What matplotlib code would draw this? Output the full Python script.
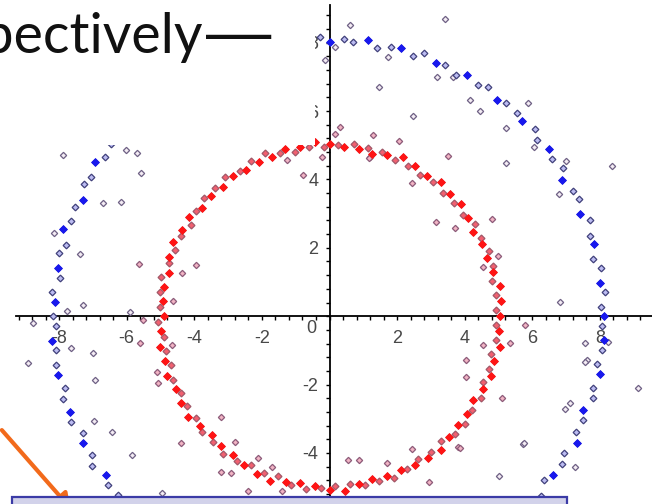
import numpy as np
import matplotlib
matplotlib.use("Agg")
import matplotlib.pyplot as plt
from matplotlib.patches import Rectangle, FancyArrowPatch
from matplotlib.ticker import FixedLocator, MultipleLocator

plt.rcParams['font.family'] = ['Liberation Sans', 'DejaVu Sans']
plt.rcParams['axes.unicode_minus'] = False

# points assigned to the inner cluster (radius ~5)
red_x = [5.03, 4.94, 5.06, 4.93, 5.04, 4.80, 4.84, 4.84, 4.65, 4.73, 4.51, 4.49, 4.24, 4.30, 4.10, 3.94, 3.90, 3.69,
         3.57, 3.36, 3.29, 3.07, 2.88, 2.69, 2.54, 2.33, 2.17, 1.94, 1.71, 1.56, 1.27, 1.13, 0.87, 0.71, 0.43, 0.26,
         0.00, -0.17, -0.44, -0.61, -0.88, -1.02, -1.31, -1.46, -1.69, -1.92, -2.10, -2.31, -2.47, -2.66, -2.86, -3.08,
         -3.16, -3.38, -3.51, -3.72, -3.78, -3.94, -4.15, -4.11, -4.36, -4.40, -4.62, -4.56, -4.76, -4.76, -4.74, -4.99,
         -4.89, -5.03, -4.92, -5.02,
         -4.90, -5.07, -4.98, -4.90, -5.01, -4.85, -4.88, -4.70, -4.80, -4.63, -4.55, -4.40, -4.40, -4.21, -4.20, -3.96,
         -3.83, -3.76, -3.48, -3.44, -3.20, -3.14, -2.85, -2.74, -2.52, -2.32, -2.15, -1.94, -1.75, -1.52, -1.30, -1.14,
         -0.86, -0.71, -0.43, -0.26,
         0.00, 0.17, 0.45, 0.60, 0.87, 1.05, 1.27, 1.47, 1.70, 1.91, 2.10, 2.28, 2.52, 2.62, 2.92, 2.99, 3.29, 3.29,
         3.54, 3.70, 3.79, 4.02, 4.08, 4.23, 4.24, 4.48, 4.53, 4.54, 4.78, 4.72, 4.88, 4.79, 5.03, 4.94, 5.00, 4.93]
red_y = [0.00, 0.17, 0.44, 0.61, 0.89, 1.02, 1.30, 1.48, 1.69, 1.91, 2.11, 2.29, 2.45, 2.69, 2.87, 2.97, 3.27, 3.32,
         3.57, 3.60, 3.91, 3.93, 4.11, 4.14, 4.40, 4.39, 4.65, 4.56, 4.70, 4.81, 4.75, 4.91, 4.90, 5.05, 4.94, 5.02,
         5.03, 4.96, 5.08, 4.95, 4.96, 4.81, 4.89, 4.78, 4.65, 4.76, 4.50, 4.53, 4.28, 4.26, 4.09, 4.08, 3.77, 3.75,
         3.51, 3.47, 3.17, 3.08, 2.91, 2.67, 2.52, 2.34, 2.16, 1.94, 1.73, 1.55, 1.27, 1.15, 0.86, 0.71, 0.43, 0.26,
         0.00, -0.18, -0.44, -0.60, -0.89, -1.03, -1.31, -1.44, -1.75, -1.87, -2.12, -2.24, -2.54, -2.63, -2.94, -2.98,
         -3.22, -3.39, -3.48, -3.68, -3.81, -4.02, -4.06, -4.22, -4.36, -4.36, -4.60, -4.58, -4.81, -4.67, -4.84, -4.93,
         -4.88, -5.05, -4.96, -5.03,
         -5.08, -4.97, -5.11, -4.91, -4.92, -4.95, -4.75, -4.82, -4.68, -4.73, -4.50, -4.48, -4.36, -4.19, -4.16, -3.97,
         -3.92, -3.65, -3.54, -3.45, -3.18, -3.14, -2.86, -2.74, -2.45, -2.38, -2.12, -1.93, -1.74, -1.53, -1.31, -1.11,
         -0.89, -0.69, -0.44, -0.26]

# points assigned to the outer cluster (radius ~8)
blue_x = [8.12, 8.02, 8.15, 8.01, 8.03, 7.80, 7.82, 7.70, 7.71, 7.42, 7.37, 7.20, 6.89, 6.92, 6.58, 6.48, 6.14, 6.07,
          5.70, 5.55, 5.22, 4.95, 4.70, 4.40, 4.08, 3.74, 3.43, 3.15, 2.80, 2.47, 2.11, 1.82, 1.39, 1.13, 0.70, 0.42,
          0.00, -0.29,
          8.06, 8.11, 8.06, 7.91, 8.00, 7.80, 7.79, 7.50, 7.51, 7.29, 7.31, 6.93, 6.89, 6.62, 6.36, 6.25, 5.97,
          -6.46, -6.65, -6.93, -7.06, -7.27, -7.30, -7.53, -7.65, -7.88, -7.81, -8.00, -8.04, -7.96, -8.21, -8.11,
          -8.19, -8.08, -8.22, -8.08, -8.10, -8.02, -7.84, -7.90, -7.67, -7.64, -7.30, -7.29, -7.04, -7.02, -6.62,
          -6.55, -6.25, -5.98, -5.83]
blue_y = [0.00, 0.28, 0.71, 0.98, 1.42, 1.66, 2.10, 2.35, 2.80, 3.00, 3.44, 3.67, 3.98, 4.32, 4.61, 4.88, 5.15, 5.47,
          5.70, 5.95, 6.22, 6.33, 6.70, 6.77, 7.06, 7.05, 7.34, 7.41, 7.71, 7.61, 7.85, 7.87, 7.84, 8.08, 8.01, 8.10,
          8.01, 8.17,
          -0.28, -0.71, -0.99, -1.39, -1.70, -2.09, -2.38, -2.73, -3.04, -3.40, -3.72, -4.00, -4.31, -4.64, -4.79,
          -5.25, -5.38,
          5.05, 4.66, 4.50, 4.08, 3.86, 3.41, 3.20, 2.78, 2.56, 2.09, 1.85, 1.42, 1.12, 0.72, 0.42,
          0.00, -0.28, -0.72, -0.99, -1.43, -1.71, -2.10, -2.41, -2.79, -3.09, -3.41, -3.72, -4.07, -4.39, -4.64,
          -4.94, -5.24, -5.38, -5.83]

# loose points just off the inner ring
stray_x = [-4.37, -3.95, -4.63, -4.66, -5.10, -5.07, -5.51, -5.60, -4.39, -3.21, -2.80, -3.21, -2.91, -2.11, -1.70,
           -2.41, -1.41, 0.55, 0.87, 1.70, 2.45, 2.94, 3.80, 3.86, 5.78, 5.34, 4.04, 4.04, 5.10, 4.54, 3.51, 2.44,
           1.29, 0.31, 0.16, 1.20, -0.78, -1.26, -0.22, 1.17, 2.06, 3.15, 3.71, 4.81, 4.98, 4.54, -5.63]
stray_y = [1.26, 1.49, 0.44, -0.85, -1.64, -1.96, -0.12, -0.79, -3.71, -2.95, -3.68, -4.56, -4.59, -4.15, -4.41,
           -5.12, -5.12, -4.21, -4.21, -4.30, -3.89, -4.85, -3.83, -3.86, -0.26, -0.79, -1.29, -1.78, -2.40, -0.85,
           4.68, 3.89, 5.29, 5.53, 5.32, 4.65, 4.12, 4.56, 4.65, 4.62, 5.12, 2.75, 2.57, 2.84, 1.75, 1.43, 1.52]

# background noise points
noise_x = [-7.88, -6.02, -5.70, -5.58, -6.70, -6.17, -7.38, -7.29, -5.90, -7.77, -8.77, -7.65, -6.99, -8.92, -6.94,
           -6.97, -6.44, -5.84, -4.95, -8.15, 3.65, 4.16, 4.45, 5.87, 5.22, 5.22, 8.36, 6.79, 3.42, 0.61, 1.46, 2.47,
           -0.13, 0.16, 1.73, 3.18, 7.00, 6.05, 6.82, 7.56, 9.13, 7.62, 8.24, 6.97, 7.11, 7.26, 7.56, 5.72, 5.01,
           5.76]
noise_y = [4.71, 4.85, 4.77, 4.18, 3.30, 3.33, 1.81, 0.32, 0.12, 0.15, -0.20, -0.94, -1.08, -1.37, -1.87, -3.07,
           -3.39, -4.06, -5.18, 2.43, 6.99, 6.32, 5.99, 6.23, 5.50, 4.47, 4.39, 3.57, 8.68, 8.51, 6.70, 5.85, 7.49,
           7.87, 7.57, 6.98, 4.53, 4.94, 0.41, -0.79, -2.11, -1.29, -0.76, -2.72, -2.54, -4.42, -1.35, -3.74, -4.68,
           -3.71]

x_ticks = [-8, -6, -4, -2, 2, 4, 6, 8]
y_ticks = [-4, -2, 2, 4, 6, 8]

fig = plt.figure(figsize=(6.52, 5.04), dpi=100)
# axes run past the bottom of the canvas, as in the cropped slide
ax = fig.add_axes([16.2 / 652, -123.4 / 504, 637.8 / 652, 622.4 / 504])
ax.set_xlim(-9.27, 9.6)
ax.set_ylim(-9.1, 9.1)

for side in ['top', 'right']:
    ax.spines[side].set_visible(False)
for side in ['left', 'bottom']:
    ax.spines[side].set_position(('data', 0))
    ax.spines[side].set_linewidth(1.3)

ax.xaxis.set_major_locator(FixedLocator(x_ticks))
ax.yaxis.set_major_locator(FixedLocator(y_ticks))
ax.xaxis.set_minor_locator(MultipleLocator(0.4))
ax.yaxis.set_minor_locator(MultipleLocator(0.4))
ax.tick_params(which='both', direction='out', length=3, width=1, color='black')
ax.tick_params(axis='x', labelsize=13, labelcolor='#484848', pad=7)
ax.tick_params(axis='y', labelsize=13, labelcolor='#484848', pad=5)
ax.text(-0.55, -0.36, '0', fontsize=13, color='#484848', ha='center', va='center')

mk = dict(marker='D', linestyle='none', zorder=3)
ax.plot(noise_x, noise_y, ms=3.2, mfc='#f4ecf4', mec='#6e6084', mew=0.9, **mk)
ax.plot(stray_x, stray_y, ms=3.2, mfc='#f2b4c4', mec='#8c5a78', mew=0.9, **mk)
ax.plot(blue_x, blue_y, ms=3.4, mfc='#bcbcf2', mec='#40407a', mew=0.9, **mk)
ax.plot(blue_x[::3], blue_y[::3], ms=3.6, mfc='#1818ee', mec='#1818ee', mew=0.5, **mk)
ax.plot(red_x, red_y, ms=3.5, mfc='#f26070', mec='#a05868', mew=0.9, **mk)
ax.plot(red_x[::2], red_y[::2], ms=3.8, mfc='#ff1414', mec='#ff1414', mew=0.5, **mk)

# slide overlays: white title band, caption box and pointer arrow
fig.patches.append(Rectangle((0, 1 - 145 / 504), 315 / 652, 145 / 504, transform=fig.transFigure,
                             facecolor='white', edgecolor='none', zorder=5))
fig.text(203 / 652, 1 - 53 / 504, 'respectively', fontsize=40, family='Lato', color='#111111',
         ha='right', va='baseline', zorder=6)
fig.text(206 / 652, 1 - 53 / 504, '\u2014', fontsize=47, family='Liberation Sans', color='#111111',
         ha='left', va='baseline', zorder=6)
fig.patches.append(FancyArrowPatch((0, 76), (72, -6), transform=None, arrowstyle='-|>,head_length=8,head_width=5',
                                   color='#f26a1b', lw=3, zorder=6))
fig.patches.append(Rectangle((12 / 652, -0.05), 555 / 652, 7 / 504 + 0.05, transform=fig.transFigure,
                             facecolor='#d2d2ea', edgecolor='#3b3ba6', lw=1.6, zorder=7))

fig.savefig('out.png', dpi=100)
